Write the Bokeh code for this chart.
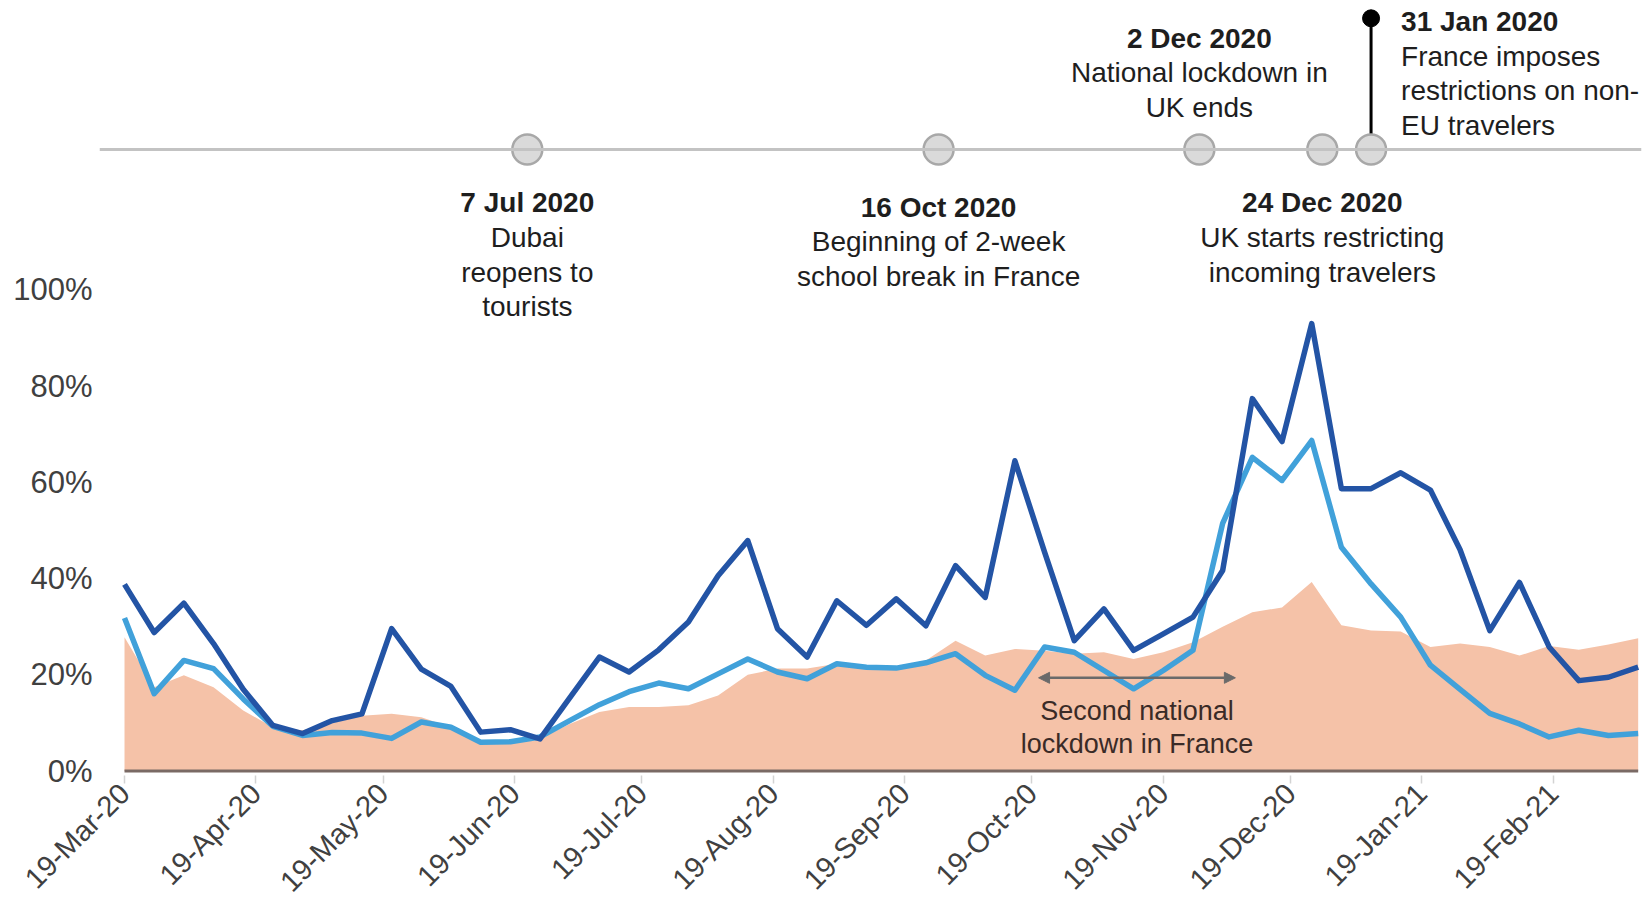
import math
import pandas as pd
from bokeh.plotting import figure
from bokeh.models import (Range1d, FixedTicker, DatetimeTickFormatter, PrintfTickFormatter,
                          Span, Arrow, NormalHead, ColumnDataSource)
from bokeh.core.properties import value
from bokeh.embed import file_html
from bokeh.resources import INLINE

# ---------------- data ----------------
start_date = "2020-03-19"
dates = pd.date_range(start_date, periods=52, freq="7D")

dark_series = [38.8, 28.8, 34.9, 26.5, 17.0, 9.5, 7.8, 10.5, 11.9, 29.6, 21.2, 17.6, 8.1, 8.6, 6.7, 15.2,
               23.7, 20.6, 25.2, 31.0, 40.6, 47.9, 29.6, 23.7, 35.4, 30.3, 35.8, 30.2, 42.7, 36.1, 64.5, 45.5,
               27.1, 33.7, 25.1, 28.5, 32.0, 41.7, 77.4, 68.5, 93.0, 58.7, 58.7, 62.0, 58.4, 46.0, 29.2, 39.2,
               25.8, 18.8, 19.5, 21.6]
light_series = [31.8, 16.1, 23.0, 21.3, 15.0, 9.3, 7.4, 8.0, 7.9, 6.8, 10.2, 9.1, 6.0, 6.1, 7.1, 10.5,
                13.8, 16.5, 18.3, 17.1, 20.2, 23.3, 20.6, 19.2, 22.3, 21.6, 21.4, 22.5, 24.4, 19.9, 16.8, 25.8,
                24.7, 20.9, 17.1, 20.9, 25.1, 51.5, 65.2, 60.4, 68.7, 46.5, 38.9, 32.0, 22.0, 17.0, 12.0, 9.8,
                7.1, 8.5, 7.4, 7.8]
area_series = [27.8, 17.4, 19.9, 17.4, 12.6, 9.1, 8.5, 10.0, 11.5, 11.9, 11.2, 9.1, 6.4, 5.7, 6.7, 9.8,
               12.3, 13.3, 13.3, 13.7, 15.7, 20.0, 21.3, 21.3, 22.3, 22.0, 21.6, 23.0, 27.1, 24.0, 25.4, 25.0,
               24.4, 24.7, 23.3, 24.7, 26.8, 30.0, 33.0, 34.0, 39.3, 30.3, 29.2, 29.0, 25.8, 26.5, 25.8, 24.0,
               26.0, 25.2, 26.3, 27.6]

tick_dates = ["2020-03-19", "2020-04-19", "2020-05-19", "2020-06-19", "2020-07-19", "2020-08-19",
              "2020-09-19", "2020-10-19", "2020-11-19", "2020-12-19", "2021-01-19", "2021-02-19"]
y_ticks = [0, 20, 40, 60, 80, 100]

event_labels = ["7 Jul 2020", "16 Oct 2020", "2 Dec 2020", "24 Dec 2020", "31 Jan 2020"]
event_texts = [["Dubai", "reopens to", "tourists"],
               ["Beginning of 2-week", "school break in France"],
               ["National lockdown in", "UK ends"],
               ["UK starts restricting", "incoming travelers"],
               ["France imposes", "restrictions on non-", "EU travelers"]]
# where the markers sit along the timeline strip (schematic, not to scale)
timeline_marks = ["2020-06-22 00:00", "2020-09-27 00:00", "2020-11-27 12:00", "2020-12-26 12:00",
                  "2021-01-07 00:00"]
highlight_event = 4

lockdown_span = ["2020-10-20 14:00", "2020-12-06 00:00"]
lockdown_text = ["Second national", "lockdown in France"]

# ---------------- layout constants ----------------
W, H = 1644, 913
BORDER_L, BORDER_R, BORDER_T, BORDER_B = 99, 3, 0, 138
PX_PER_DAY = 4.24
PX_PER_PCT = 4.812
ZERO_PX = 770.6            # pixel row of the 0% line
DATA_LEFT_PX = 124.0       # pixel column of the first date

frame_w = W - BORDER_L - BORDER_R
frame_h = H - BORDER_T - BORDER_B
t0 = pd.Timestamp(start_date)
x_start = t0 - pd.Timedelta(days=(DATA_LEFT_PX - BORDER_L) / PX_PER_DAY)
x_end = x_start + pd.Timedelta(days=frame_w / PX_PER_DAY)
y_start = -((H - BORDER_B) - ZERO_PX) / PX_PER_PCT
y_end = y_start + frame_h / PX_PER_PCT


def py(px):
    """pixel row -> y data value"""
    return (ZERO_PX - px) / PX_PER_PCT


FONT = value("Liberation Sans")
DARK = "#2354a5"
LIGHT = "#41a1da"
ORANGE = "#f5c2a8"
TEXT = "#1e1e1e"

p = figure(width=W, height=H, x_axis_type="datetime", output_backend="svg", toolbar_location=None,
           x_range=Range1d(x_start, x_end), y_range=Range1d(y_start, y_end),
           min_border_left=BORDER_L, min_border_right=BORDER_R,
           min_border_top=BORDER_T, min_border_bottom=BORDER_B)
p.outline_line_color = None
p.grid.visible = False
p.background_fill_color = "white"
p.border_fill_color = "white"

# ---------------- series ----------------
src = ColumnDataSource(dict(x=dates, dark=dark_series, light=light_series, area=area_series,
                            zero=[0] * len(dates)))
p.varea(x="x", y1="zero", y2="area", source=src, fill_color=ORANGE)
p.line(x="x", y="light", source=src, line_color=LIGHT, line_width=5.5, line_join="round")
p.line(x="x", y="dark", source=src, line_color=DARK, line_width=5.5, line_join="round")
# baseline
p.segment(x0=[dates[0]], y0=[0], x1=[dates[-1]], y1=[0], line_color="#7a6a65", line_width=3)

# ---------------- lockdown arrow ----------------
ls = pd.to_datetime(lockdown_span, format="%Y-%m-%d %H:%M")
arrow_y = py(677.3)
p.add_layout(Arrow(start=NormalHead(size=11, fill_color="#6a6a6a", line_color="#6a6a6a"),
                   end=NormalHead(size=11, fill_color="#6a6a6a", line_color="#6a6a6a"),
                   x_start=ls[0].value / 1e6, y_start=arrow_y, x_end=ls[1].value / 1e6, y_end=arrow_y,
                   line_color="#6a6a6a", line_width=2.5))
mid = ls[0] + (ls[1] - ls[0]) / 2
p.text(x=[mid, mid], y=[py(710.0), py(743.6)], text=lockdown_text, text_font=FONT,
       text_font_size="27px", text_align="center", text_baseline="middle", text_color="#3a2b27")

# ---------------- timeline ----------------
TL_PX = 149.0
tl_y = py(TL_PX)
p.add_layout(Span(location=tl_y, dimension="width", line_color="#c3c3c3", line_width=3))
marks = pd.to_datetime(timeline_marks, format="%Y-%m-%d %H:%M")
hx = marks[highlight_event]
p.segment(x0=[hx], y0=[tl_y], x1=[hx], y1=[py(17.8)], line_color="black", line_width=3)
p.scatter(x=[hx], y=[py(17.8)], size=17, fill_color="black", line_color="black")
p.scatter(x=list(marks), y=[tl_y] * len(marks), size=30, fill_color="#dadada", line_color="#a8a8a8",
          line_width=2.5)

header_px = [202.4, 206.6, 37.7, 202.4, 21.0]
aligns = ["center", "center", "center", "center", "left"]
x_offs = [0, 0, 0, 0, 30]
LINE_STEP = 34.6
for i, (lab, lines) in enumerate(zip(event_labels, event_texts)):
    p.text(x=[marks[i]], y=[py(header_px[i])], text=[lab], text_font=FONT, text_font_size="28px",
           text_font_style="bold", text_align=aligns[i], text_baseline="middle", text_color=TEXT,
           x_offset=x_offs[i])
    p.text(x=[marks[i]] * len(lines), y=[py(header_px[i] + LINE_STEP * (k + 1)) for k in range(len(lines))],
           text=lines, text_font=FONT, text_font_size="28px", text_align=aligns[i],
           text_baseline="middle", text_color=TEXT, x_offset=x_offs[i])

# ---------------- axes ----------------
xa = p.xaxis[0]
xa.ticker = FixedTicker(ticks=[pd.Timestamp(d).value / 1e6 for d in tick_dates])
fmt = "%d-%b-%y"
xa.formatter = DatetimeTickFormatter(microseconds=fmt, milliseconds=fmt, seconds=fmt, minsec=fmt,
                                     minutes=fmt, hourmin=fmt, hours=fmt, days=fmt, months=fmt, years=fmt)
xa.major_label_orientation = math.pi / 4
xa.axis_line_color = None
xa.major_tick_line_color = "#d3d3d3"
xa.major_tick_line_width = 1.5
xa.major_tick_out = 8
xa.major_tick_in = 0
xa.minor_tick_line_color = None
xa.major_label_standoff = 5
xa.major_label_text_font = "Liberation Sans"
xa.major_label_text_font_size = "29px"
xa.major_label_text_color = "#404040"

ya = p.yaxis[0]
ya.ticker = FixedTicker(ticks=y_ticks)
ya.formatter = PrintfTickFormatter(format="%d%%")
ya.axis_line_color = None
ya.major_tick_line_color = None
ya.minor_tick_line_color = None
ya.major_tick_out = 0
ya.major_tick_in = 0
ya.major_label_standoff = 7
ya.major_label_text_font = "Liberation Sans"
ya.major_label_text_font_size = "31px"
ya.major_label_text_color = "#404040"

open("out.html", "w").write(file_html(p, INLINE))
